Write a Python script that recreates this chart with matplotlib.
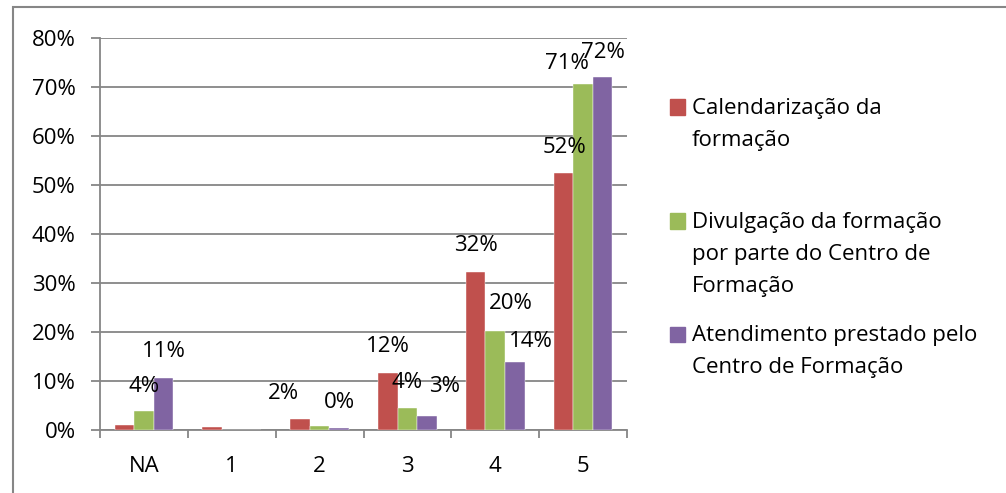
import matplotlib
matplotlib.use("Agg")
import matplotlib.pyplot as plt
import matplotlib.patches as mpatches
import numpy as np

categories = ["NA", "1", "2", "3", "4", "5"]
series_names = [
    "Calendarização da\nformação",
    "Divulgação da formação\npor parte do Centro de\nFormação",
    "Atendimento prestado pelo\nCentro de Formação",
]
calendarizacao = [0.010, 0.0055, 0.022, 0.116, 0.322, 0.524]
divulgacao = [0.039, 0.0, 0.009, 0.044, 0.202, 0.706]
atendimento = [0.107, 0.0, 0.004, 0.029, 0.139, 0.720]
colors = ["#C0504D", "#9BBB59", "#8064A2"]
y_ticks = [0, 0.1, 0.2, 0.3, 0.4, 0.5, 0.6, 0.7, 0.8]

# which bars carry a data label: (category index, series index, dx px, dy px)
labelled = [
    (0, 1, 0, 24), (0, 2, 0, 26),
    (2, 0, -17, 26), (2, 2, 0, 26),
    (3, 0, 0, 27), (3, 1, 0, 26), (3, 2, 18, 29),
    (4, 0, 0, 27), (4, 1, 16, 28), (4, 2, 16, 20),
    (5, 0, 1, 26), (5, 1, -16, 21), (5, 2, 0, 25),
]

plt.rcParams["font.family"] = ["Open Sans", "DejaVu Sans"]
FS = 16

W, H = 1006, 493
fig = plt.figure(figsize=(W / 100, H / 100), dpi=100)
ax = fig.add_axes([100 / W, 63 / H, 527 / W, 392 / H])

data = [calendarizacao, divulgacao, atendimento]
x = np.arange(len(categories))
bw = 1 / 4.5
grid_c = "#868686"
for i, vals in enumerate(data):
    ax.bar(x + (i - 1) * bw, vals, width=bw, color=colors[i], zorder=3,
           edgecolor="white", linewidth=0.3)

for ci, si, dx, dy in labelled:
    v = data[si][ci]
    ax.annotate(f"{round(v * 100)}%", xy=(x[ci] + (si - 1) * bw, v),
                xytext=(dx * 0.72, dy * 0.72), textcoords="offset points",
                ha="center", va="center", fontsize=FS, color="black", zorder=5)

ax.set_xlim(-0.5, len(categories) - 0.5)
ax.set_ylim(0, 0.8)
ax.set_yticks(y_ticks)
ax.set_yticklabels([f"{int(round(t * 100))}%" for t in y_ticks], fontsize=FS)
ax.yaxis.grid(True, color=grid_c, linewidth=1.3, zorder=0)
ax.set_axisbelow(True)
ax.set_xticks(x)
ax.set_xticklabels(categories, fontsize=FS)
ax.set_xticks(np.arange(-0.5, len(categories), 1), minor=True)
ax.tick_params(axis="x", which="major", length=0, pad=19)
ax.tick_params(axis="x", which="minor", length=6, width=1.3, color=grid_c)
ax.tick_params(axis="y", length=6.5, width=1.3, color=grid_c, pad=11)
for s in ["top", "right"]:
    ax.spines[s].set_visible(False)
for s in ["left", "bottom"]:
    ax.spines[s].set_color(grid_c)
    ax.spines[s].set_linewidth(1.3)

# legend, drawn by hand to match Excel layout
leg_y = [107, 221, 334]
for i, (name, yy) in enumerate(zip(series_names, leg_y)):
    fig.patches.append(mpatches.Rectangle((670 / W, 1 - (yy + 7.5) / H), 15 / W, 15 / H,
                                          transform=fig.transFigure, color=colors[i]))
    fig.text(692 / W, 1 - (yy - 9) / H, name, fontsize=FS, ha="left", va="top",
             linespacing=1.68)

# outer chart border
fig.patches.append(mpatches.Rectangle((13 / W, -0.1), 1.2, (H - 7) / H + 0.1,
                                      transform=fig.transFigure, fill=False,
                                      edgecolor=grid_c, linewidth=1.5))

fig.savefig("out.png", dpi=100)
